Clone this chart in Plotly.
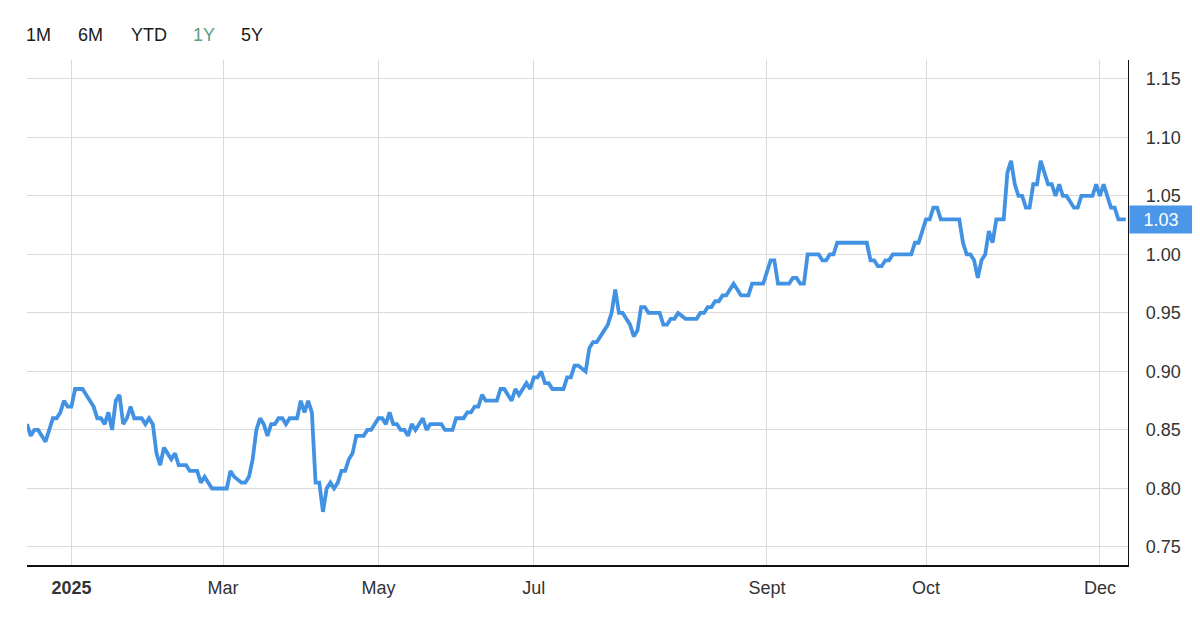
import plotly.graph_objects as go

# ordinal session index (trading-day position) and price
session = [
    0, 1, 2, 3, 5, 7, 8, 9, 10, 11, 12, 13, 15, 17, 18, 19, 20, 21, 22, 23, 24, 25, 26, 27, 28, 29, 31, 32, 33, 34,
    35, 36, 37, 38, 39, 40, 41, 43, 44, 46, 47, 48, 50, 54, 55, 56, 58, 59, 60, 61,
    62, 63, 64, 65, 66, 67, 68, 69, 70, 71, 73, 74, 75, 76, 77, 78, 79, 80, 81, 82,
    83, 84, 85, 86, 87, 88, 89, 91, 92, 93, 94, 95, 96, 97, 98, 99, 100, 101, 102, 103,
    104, 105, 107, 108, 109, 112, 113, 115, 116, 118, 119, 120, 121, 122, 123, 124, 127, 128, 129, 131,
    132, 133, 134, 135, 136, 137, 138, 139, 140, 141, 142, 145, 146, 147, 148, 149, 151, 152, 153, 154,
    155, 156, 157, 158, 159, 160, 161, 163, 164, 165, 166, 167, 168, 171, 172, 173, 174, 175, 176, 178,
    181, 182, 183, 184, 185, 186, 187, 188, 189, 190, 191, 192, 193, 195, 196, 199, 200, 201, 202, 203,
    206, 207, 208, 209, 210, 211, 214, 215, 216, 217, 218, 219, 227, 228, 229, 230, 231, 232, 233, 234,
    239, 240, 241, 242, 243, 244, 245, 246, 247, 252, 253, 254, 255, 256, 257, 258, 259, 260, 261, 262,
    264, 265, 266, 267, 268, 269, 270, 271, 272, 273, 274, 275, 276, 277, 278, 279, 280, 281, 283, 284,
    285, 288, 289, 290, 291, 292, 293, 294, 295, 297,
]
price = [
    .855, .845, .85, .85, .84, .86, .86, .865, .875, .87, .87, .885, .885, .875, .87, .86, .86, .855, .865, .85, .875, .88, .855, .86, .87, .86, .86, .855, .86, .855,
    .83, .82, .835, .83, .825, .83, .82, .82, .815, .815, .805, .81, .80, .80, .815, .81, .805, .805, .81, .825,
    .85, .86, .855, .845, .855, .855, .86, .86, .855, .86, .86, .875, .865, .875, .865, .805, .805, .78, .80, .805,
    .80, .805, .815, .815, .825, .83, .845, .845, .85, .85, .855, .86, .86, .855, .865, .855, .855, .85, .85, .845,
    .855, .85, .86, .85, .855, .855, .85, .85, .86, .86, .865, .865, .87, .87, .88, .875, .875, .885, .885, .875,
    .885, .88, .885, .89, .885, .895, .895, .90, .89, .89, .885, .885, .895, .895, .905, .905, .90, .92, .925, .925,
    .93, .935, .94, .95, .97, .95, .95, .94, .93, .935, .955, .955, .95, .95, .94, .94, .945, .945, .95, .945,
    .945, .95, .95, .955, .955, .96, .96, .965, .965, .97, .975, .97, .965, .965, .975, .975, .985, .995, .995, .975,
    .975, .98, .98, .975, .975, 1.00, 1.00, .995, .995, 1.00, 1.00, 1.01, 1.01, .995, .995, .99, .99, .995, .995, 1.00,
    1.00, 1.01, 1.01, 1.02, 1.03, 1.03, 1.04, 1.04, 1.03, 1.03, 1.01, 1.00, 1.00, .995, .98, .995, 1.00, 1.02, 1.01, 1.03,
    1.03, 1.07, 1.08, 1.06, 1.05, 1.05, 1.04, 1.04, 1.06, 1.06, 1.08, 1.07, 1.06, 1.06, 1.05, 1.06, 1.05, 1.05, 1.04, 1.04,
    1.05, 1.05, 1.06, 1.05, 1.06, 1.05, 1.04, 1.04, 1.03, 1.03,
]

tick_sessions = [12, 53, 95, 137, 200, 243, 290]
tick_labels = ["<b>2025</b>", "Mar", "May", "Jul", "Sept", "Oct", "Dec"]
y_ticks = [0.75, 0.80, 0.85, 0.90, 0.95, 1.00, 1.05, 1.10, 1.15]
range_buttons = ["1M", "6M", "YTD", "1Y", "5Y"]
active_button = "1Y"
last_value = price[-1]

LINE = "#4292e4"
FONT = "Helvetica Neue, Helvetica, Arial, Liberation Sans, sans-serif"

fig = go.Figure()
fig.add_trace(go.Scatter(
    x=session, y=price, mode="lines",
    line=dict(color=LINE, width=3.8, shape="linear"),
    hoverinfo="skip", showlegend=False,
))

# range selector labels (plot area on screen: x 27..1128 px, y 60..565 px)
btn_px = [38, 90, 149, 204, 252]
for lab, px in zip(range_buttons, btn_px):
    fig.add_annotation(
        text=lab, xref="paper", yref="paper",
        x=(px - 27) / 1101, y=(565 - 35) / 505,
        showarrow=False, xanchor="center", yanchor="middle",
        font=dict(size=18, family=FONT,
                  color="#5a9e7b" if lab == active_button else "#1a1a1a"),
    )

# last value flag
fig.add_annotation(
    text=f"{last_value:.2f}", xref="paper", yref="y",
    x=1, y=last_value, xanchor="left", yanchor="middle",
    showarrow=False, bgcolor="#4a96e8", width=56, height=21, borderpad=3,
    align="center", xshift=1,
    font=dict(size=18, family=FONT, color="white"),
)

# faint container border at left
fig.add_shape(type="line", xref="paper", yref="paper",
              x0=-25 / 1101, x1=-25 / 1101, y0=-0.125, y1=1.125,
              line=dict(color="#ececec", width=1))

fig.update_layout(
    width=1200, height=626,
    margin=dict(l=19, r=80, t=52, b=69),
    paper_bgcolor="white", plot_bgcolor="white",
    font=dict(family=FONT, size=18, color="#222222"),
    hovermode=False,
)
fig.update_xaxes(
    range=[0, 297.6], tickmode="array", tickvals=tick_sessions, ticktext=tick_labels,
    showgrid=True, gridcolor="#dadada", gridwidth=1,
    showline=True, linecolor="#111111", linewidth=1.5,
    ticks="outside", ticklen=6, tickcolor="rgba(0,0,0,0)",
    tickfont=dict(size=18, color="#333333"), zeroline=False,
)
fig.update_yaxes(
    range=[0.7346, 1.1662], side="right", tickmode="array", tickvals=y_ticks,
    ticktext=[f"{v:.2f}" for v in y_ticks],
    showgrid=True, gridcolor="#dadada", gridwidth=1,
    showline=True, linecolor="#111111", linewidth=1.2,
    ticks="outside", ticklen=13, tickcolor="rgba(0,0,0,0)",
    tickfont=dict(size=18, color="#333333"), zeroline=False,
)

fig.write_html("out.html")
